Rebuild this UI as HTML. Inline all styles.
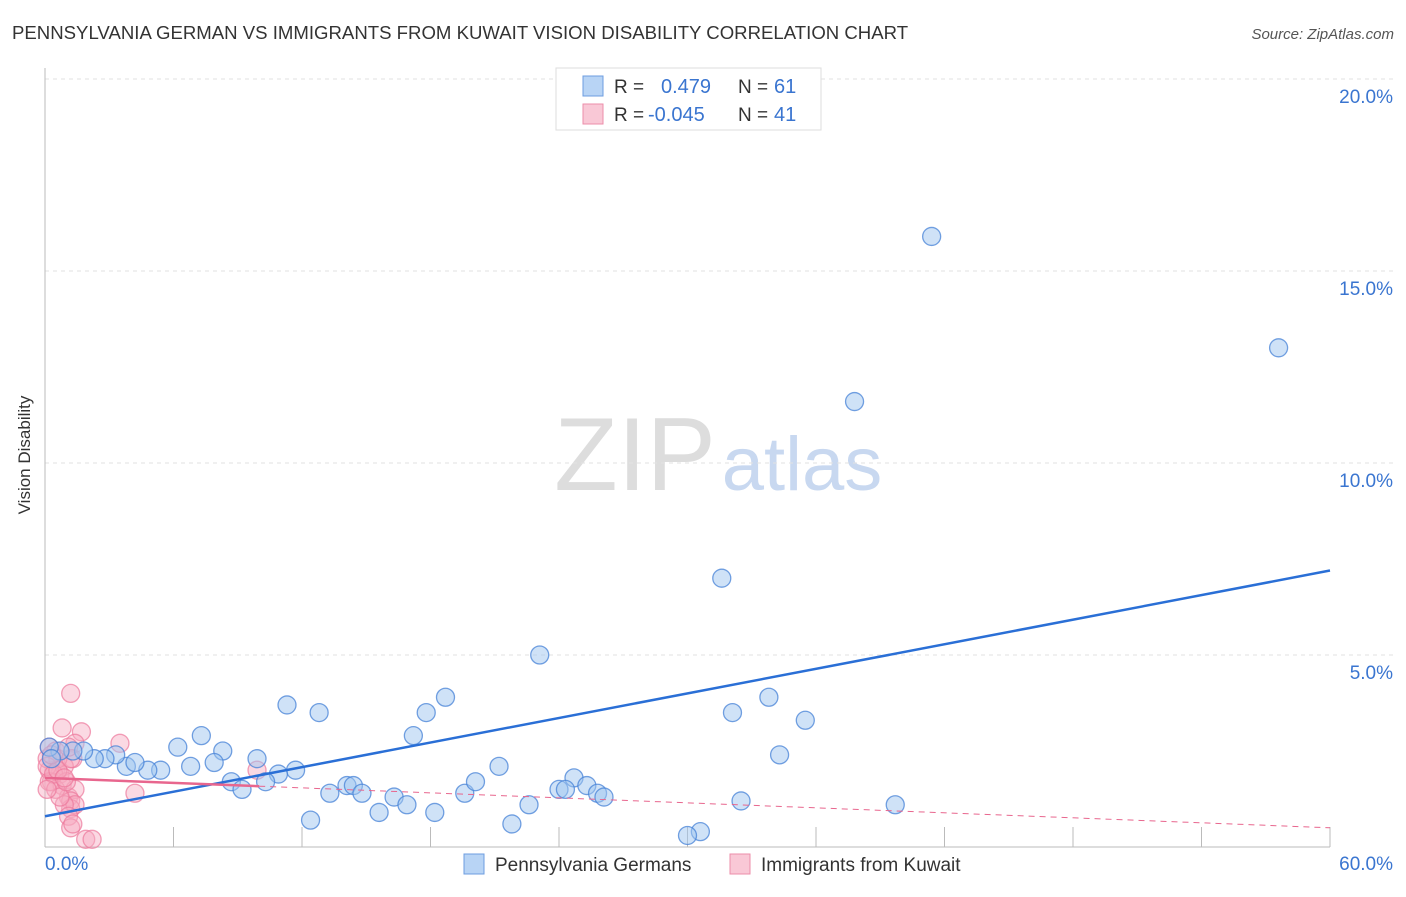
<!DOCTYPE html>
<html><head><meta charset="utf-8"><style>
body{margin:0;background:#fff;font-family:"Liberation Sans",sans-serif}
svg text{font-family:"Liberation Sans",sans-serif}
</style></head><body>
<svg id="c" width="1406" height="892">
<text x="12" y="39" font-size="18.6" fill="#333">PENNSYLVANIA GERMAN VS IMMIGRANTS FROM KUWAIT VISION DISABILITY CORRELATION CHART</text>
<text x="1394" y="39" font-size="15" fill="#555" text-anchor="end" font-style="italic">Source: ZipAtlas.com</text>
<text x="30" y="455" font-size="17" fill="#333" text-anchor="middle" transform="rotate(-90 30 455)">Vision Disability</text>
<text x="635" y="490" font-size="104" fill="#ddd" font-family="Liberation Serif" text-anchor="middle">ZIP</text>
<text x="802" y="490" font-size="76" fill="#c8d8f0" text-anchor="middle">atlas</text>
<g id="grid"></g><g id="marks"></g>
<g>
<rect x="556" y="68" width="265" height="62" fill="#fff" stroke="#ddd"/>
<rect x="583" y="76" width="20" height="20" fill="#b8d4f5" stroke="#6d9de0"/>
<rect x="583" y="104" width="20" height="20" fill="#f9c8d6" stroke="#ec8eaa"/>
<text x="614" y="93" font-size="19" fill="#333">R =</text><text x="661" y="93" font-size="20" fill="#3a75d0">0.479</text>
<text x="738" y="93" font-size="19" fill="#333">N =</text><text x="774" y="93" font-size="20" fill="#3a75d0">61</text>
<text x="614" y="121" font-size="19" fill="#333">R =</text><text x="648" y="121" font-size="20" fill="#3a75d0">-0.045</text>
<text x="738" y="121" font-size="19" fill="#333">N =</text><text x="774" y="121" font-size="20" fill="#3a75d0">41</text>
</g>
<g>
<rect x="464" y="854" width="20" height="20" fill="#b8d4f5" stroke="#6d9de0"/>
<text x="495" y="871" font-size="19" fill="#333">Pennsylvania Germans</text>
<rect x="730" y="854" width="20" height="20" fill="#f9c8d6" stroke="#ec8eaa"/>
<text x="761" y="871" font-size="19" fill="#333">Immigrants from Kuwait</text>
</g>
</svg>
<script>
const xTicks=[0,60];
const yTicks=[5,10,15,20];
const blueX=[41.4,57.6,37.8,31.6,23.1,18.7,11.3,12.8,17.8,33.8,32.1,35.5,17.2,7.3,6.2,8.3,9.9,34.3,21.2,11.7,10.9,6.8,7.9,5.4,4.8,3.8,4.2,3.3,2.8,2.3,1.8,1.3,0.7,0.2,0.3,8.7,9.2,10.3,13.3,14.1,14.4,14.8,16.3,16.9,19.6,20.1,24.7,25.3,24.0,24.3,25.8,26.1,22.6,32.5,39.7,15.6,18.2,12.4,21.8,30.6,30.0];
const blueY=[15.9,13.0,11.6,7.0,5.0,3.9,3.7,3.5,3.5,3.9,3.5,3.3,2.9,2.9,2.6,2.5,2.3,2.4,2.1,2.0,1.9,2.1,2.2,2.0,2.0,2.1,2.2,2.4,2.3,2.3,2.5,2.5,2.5,2.6,2.3,1.7,1.5,1.7,1.4,1.6,1.6,1.4,1.3,1.1,1.4,1.7,1.8,1.6,1.5,1.5,1.4,1.3,1.1,1.2,1.1,0.9,0.9,0.7,0.6,0.4,0.3];
const pinkX=[1.2,0.8,1.7,3.5,0.2,1.4,0.5,1.3,9.9,4.2,0.5,0.7,0.9,0.2,0.1,0.6,0.3,0.8,1.1,1.4,1.2,1.2,1.4,0.9,1.1,1.2,1.3,1.9,2.2,0.2,0.5,0.7,0.1,0.4,0.1,1.0,0.6,0.9,1.2,1.1,0.3];
const pinkY=[4.0,3.1,3.0,2.7,2.6,2.7,2.5,2.3,2.0,1.4,2.0,1.9,2.1,2.0,2.3,2.3,1.7,1.6,1.3,1.5,1.2,1.0,1.1,1.1,0.8,0.5,0.6,0.2,0.2,1.7,1.5,1.3,2.1,1.9,1.5,1.7,2.0,1.8,2.3,2.6,2.4];
const blueTrend=[0.8,7.2];
const pinkTrend=[1.8,0.5];
const X0=45,X1=1330,Y0=847;
const xs=v=>X0+v/60*(X1-X0);
const ys=v=>Y0-v*38.4;
const NS='http://www.w3.org/2000/svg';
function mk(t,a,p){const e=document.createElementNS(NS,t);for(const k in a)e.setAttribute(k,a[k]);p.appendChild(e);return e;}
const g=document.getElementById('grid'),m=document.getElementById('marks');
yTicks.forEach(v=>{
 const l=mk('line',{x1:X0,x2:1394,y1:ys(v),y2:ys(v),stroke:'#e2e2e2','stroke-dasharray':'4,4'},g);
 
 
 const t=mk('text',{x:1393,y:ys(v)+24,'font-size':19,fill:'#3a75d0','text-anchor':'end'},g);
 t.textContent=v.toFixed(1)+'%';
 
 
});
mk('line',{x1:X0,x2:X0,y1:68,y2:Y0,stroke:'#bbb'},g);
mk('line',{x1:X0,x2:X1,y1:Y0,y2:Y0,stroke:'#bbb'},g);
for(let i=1;i<=10;i++){mk('line',{x1:X0+i*128.5,x2:X0+i*128.5,y1:827,y2:Y0,stroke:'#bbb'},g);}
xTicks.forEach((v,i)=>{
 const t=mk('text',{x:i?1393:45,y:870,'font-size':19,fill:'#3a75d0','text-anchor':i?'end':'start'},g);
 t.textContent=v.toFixed(1)+'%';
 
 
});
pinkX.forEach((v,i)=>{
 const c=mk('circle',{cx:xs(v),cy:ys(pinkY[i]),r:9,fill:'rgba(246,170,192,0.45)',stroke:'rgba(236,120,155,0.7)','stroke-width':1.3},m);
 
 
});
blueX.forEach((v,i)=>{
 const c=mk('circle',{cx:xs(v),cy:ys(blueY[i]),r:9,fill:'rgba(160,198,240,0.5)',stroke:'rgba(70,130,215,0.75)','stroke-width':1.3},m);
 
 
});
const bl=mk('line',{x1:xs(0),y1:ys(blueTrend[0]),x2:xs(60),y2:ys(blueTrend[1]),stroke:'#2a6fd6','stroke-width':2.5},m);


const pv=x=>pinkTrend[0]+(pinkTrend[1]-pinkTrend[0])*x/60;
const p1=mk('line',{x1:xs(0),y1:ys(pv(0)),x2:xs(10),y2:ys(pv(10)),stroke:'#e8668e','stroke-width':2.5},m);


const p2=mk('line',{x1:xs(10),y1:ys(pv(10)),x2:xs(60),y2:ys(pv(60)),stroke:'#e8668e','stroke-width':1,'stroke-dasharray':'6,5'},m);


</script>
</body></html>
